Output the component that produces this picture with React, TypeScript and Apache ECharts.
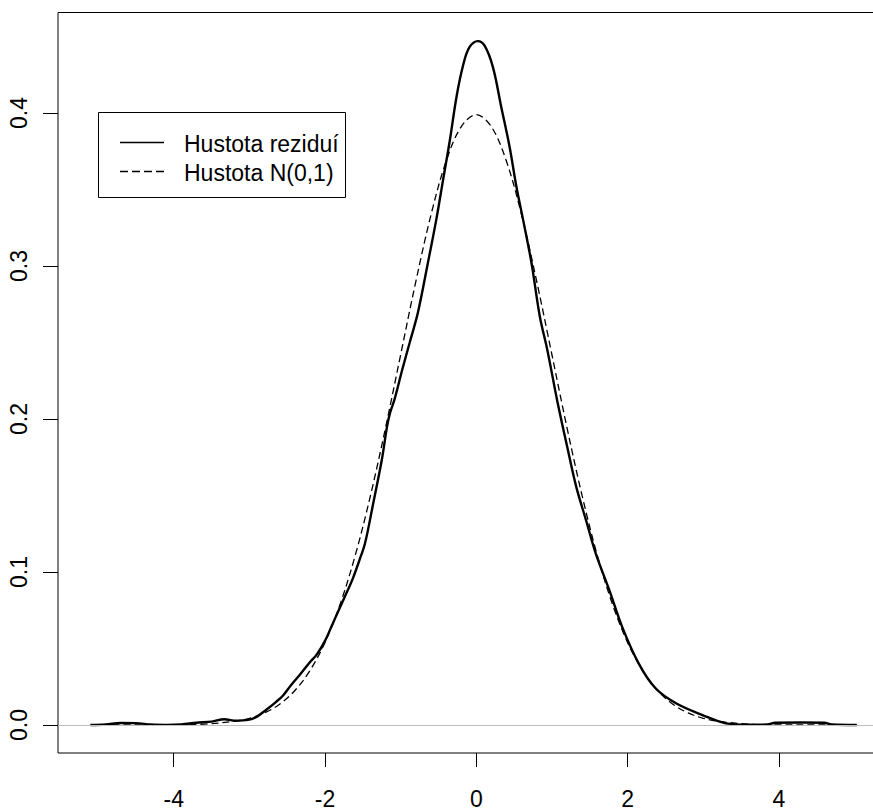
import React, { useEffect, useRef } from "react";
import * as echarts from "echarts";

// Residual density (solid)
const residX = [
  -5.1, -4.9, -4.7, -4.5, -4.3, -4.1, -3.9, -3.7, -3.5, -3.33, -3.2, -3.0, -2.9, -2.78, -2.65,
  -2.56, -2.45, -2.33, -2.2, -2.11, -2.0, -1.9, -1.81, -1.7, -1.63, -1.55, -1.47, -1.37, -1.25,
  -1.18, -1.14, -1.08, -0.98, -0.88, -0.77, -0.64, -0.53, -0.44, -0.35, -0.26, -0.17, -0.09,
  0.02, 0.11, 0.22, 0.33, 0.44, 0.53, 0.62, 0.73, 0.84, 0.94, 1.07, 1.21, 1.32, 1.45, 1.58,
  1.76, 1.93, 2.15, 2.37, 2.64, 2.99, 3.3, 3.6, 3.85, 3.95, 4.3, 4.6, 4.7, 5.03,
];
const residY = [
  0.0, 0.0003, 0.0013, 0.0012, 0.0003, 0.0001, 0.0004, 0.0015, 0.0022, 0.0038, 0.0028, 0.0035,
  0.0055, 0.0098, 0.015, 0.019, 0.026, 0.033, 0.041, 0.046, 0.055, 0.066, 0.076, 0.088, 0.096,
  0.107, 0.119, 0.143, 0.173, 0.195, 0.204, 0.213, 0.232, 0.25, 0.27, 0.302, 0.33, 0.356, 0.382,
  0.411, 0.432, 0.443, 0.447, 0.444, 0.43, 0.404, 0.378, 0.352, 0.33, 0.302, 0.267, 0.245,
  0.212, 0.18, 0.156, 0.134, 0.112, 0.088, 0.064, 0.04, 0.024, 0.0142, 0.0065, 0.0011, 0.0002,
  0.0003, 0.0015, 0.0016, 0.0015, 0.0003, 0.0,
];

// N(0,1) density (dashed)
const normX = [
  -5.1, -4.4, -4.0, -3.6, -3.2, -3.0, -2.8, -2.6, -2.4, -2.2, -2.0, -1.8, -1.6, -1.4, -1.2, -1.0,
  -0.8, -0.6, -0.4, -0.2, 0.0, 0.2, 0.4, 0.6, 0.8, 1.0, 1.2, 1.4, 1.6, 1.8, 2.0, 2.2, 2.4, 2.6,
  2.8, 3.0, 3.2, 3.6, 4.0, 4.4, 5.03,
];
const normY = [
  0.0, 0.0, 0.0001, 0.0006, 0.0024, 0.0044, 0.0079, 0.0136, 0.0224, 0.0355, 0.054, 0.079, 0.1109,
  0.1497, 0.1942, 0.242, 0.2897, 0.3332, 0.3683, 0.391, 0.3989, 0.391, 0.3683, 0.3332, 0.2897,
  0.242, 0.1942, 0.1497, 0.1109, 0.079, 0.054, 0.0355, 0.0224, 0.0136, 0.0079, 0.0044, 0.0024,
  0.0006, 0.0001, 0.0, 0.0,
];

const xTicks = [-4, -2, 0, 2, 4];
const yTicks = [0, 0.1, 0.2, 0.3, 0.4];
const seriesNames = ["Hustota reziduí", "Hustota N(0,1)"];

const FONT = "'Liberation Sans', Arial, Helvetica, sans-serif";

export default function App() {
  const ref = useRef<HTMLDivElement>(null);

  useEffect(() => {
    if (!ref.current) return;
    const chart = echarts.init(ref.current, null, { renderer: "svg" });
    const resid = residX.map((x, i) => [x, residY[i]]);
    const norm = normX.map((x, i) => [x, normY[i]]);

    chart.setOption({
      animation: false,
      backgroundColor: "#ffffff",
      grid: {
        left: 58,
        top: 12.5,
        right: 13,
        bottom: 59,
        show: true,
        borderColor: "#000000",
        borderWidth: 1,
        backgroundColor: "transparent",
        containLabel: false,
        outerBoundsMode: "none",
      },
      xAxis: {
        type: "value",
        min: -5.53,
        max: 5.43,
        axisLine: { show: false, onZero: false },
        splitLine: { show: false },
        axisTick: {
          show: true,
          customValues: xTicks,
          length: 14,
          inside: false,
          lineStyle: { color: "#000000", width: 1 },
        },
        axisLabel: {
          customValues: xTicks,
          formatter: (v: number) => String(v),
          fontSize: 23,
          lineHeight: 18,
          fontFamily: FONT,
          color: "#000000",
          margin: 36.5,
        },
      },
      yAxis: {
        type: "value",
        min: -0.0183,
        max: 0.4657,
        axisLine: { show: false, onZero: false },
        splitLine: { show: false },
        axisTick: {
          show: true,
          customValues: yTicks,
          length: 15,
          inside: false,
          lineStyle: { color: "#000000", width: 1 },
        },
        axisLabel: {
          customValues: yTicks,
          formatter: (v: number) => v.toFixed(1),
          rotate: 90,
          fontSize: 23,
          fontFamily: FONT,
          color: "#000000",
          margin: 28,
        },
      },
      series: [
        {
          name: seriesNames[0],
          type: "line",
          data: resid,
          showSymbol: false,
          smooth: 0.35,
          lineStyle: { color: "#000000", width: 2.4 },
          markLine: {
            silent: true,
            symbol: ["none", "none"],
            label: { show: false },
            lineStyle: { color: "#bebebe", width: 1, type: "solid" },
            data: [{ yAxis: 0 }],
          },
          z: 3,
        },
        {
          name: seriesNames[1],
          type: "line",
          data: norm,
          showSymbol: false,
          smooth: 0.35,
          lineStyle: { color: "#000000", width: 1.3, type: [7, 4] },
          z: 4,
        },
      ],
      graphic: [
        {
          type: "group",
          z: 100,
          children: [
            {
              type: "rect",
              shape: { x: 98.5, y: 112.5, width: 247, height: 85 },
              style: { fill: "#ffffff", stroke: "#000000", lineWidth: 1 },
            },
            {
              type: "line",
              shape: { x1: 120, y1: 142.5, x2: 164, y2: 142.5 },
              style: { stroke: "#000000", lineWidth: 1.3 },
            },
            {
              type: "line",
              shape: { x1: 120, y1: 171.5, x2: 164, y2: 171.5 },
              style: { stroke: "#000000", lineWidth: 1.3, lineDash: [8, 4] },
            },
            {
              type: "text",
              x: 184,
              y: 143.5,
              style: {
                text: seriesNames[0],
                font: `23px ${FONT}`,
                fill: "#000000",
                textVerticalAlign: "middle",
                verticalAlign: "middle",
              },
            },
            {
              type: "text",
              x: 184,
              y: 173,
              style: {
                text: seriesNames[1],
                font: `23px ${FONT}`,
                fill: "#000000",
                textVerticalAlign: "middle",
                verticalAlign: "middle",
              },
            },
          ],
        },
      ],
    });

    return () => chart.dispose();
  }, []);

  return (
    <div
      style={{
        position: "absolute",
        left: 0,
        top: 0,
        width: 873,
        height: 812,
        overflow: "hidden",
      }}
    >
      <div ref={ref} style={{ width: 900, height: 812 }} />
    </div>
  );
}
